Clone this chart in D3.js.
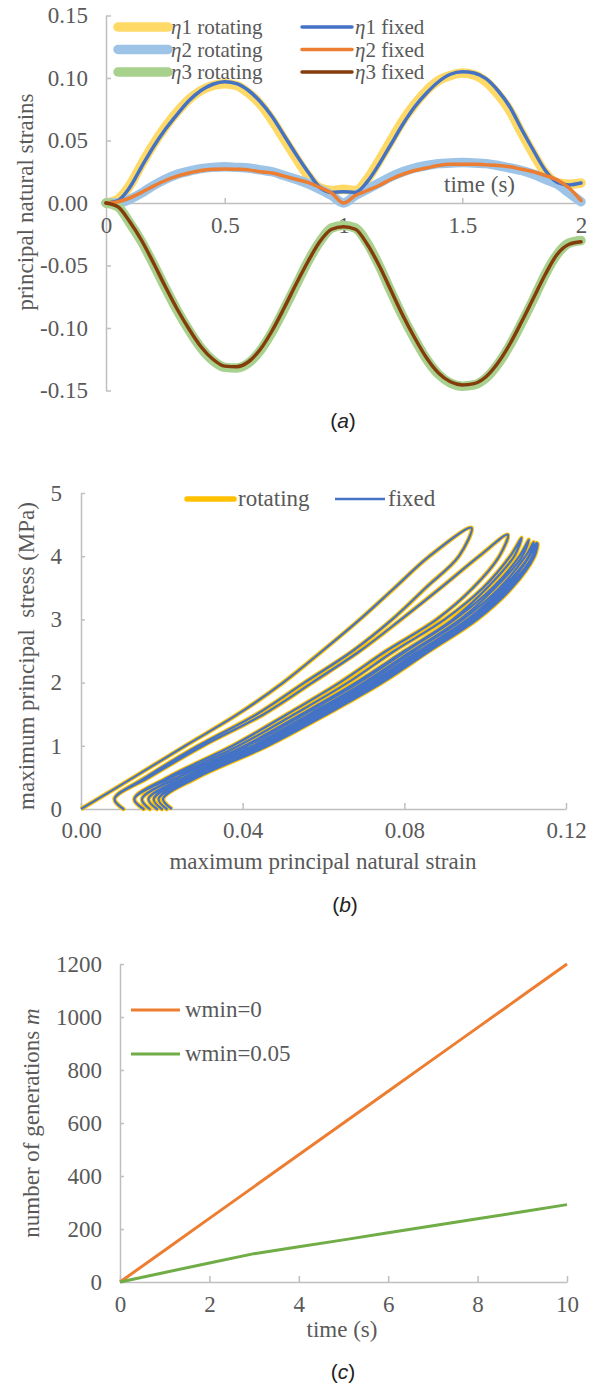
<!DOCTYPE html>
<html>
<head>
<meta charset="utf-8">
<script src="https://cdn.jsdelivr.net/npm/d3@7"></script>
<style>
  body { margin: 0; background: #fff; }
  svg text { font-family: "Liberation Serif", "Times New Roman", serif; fill: #595959; }
  .cap { font-family: "Liberation Sans", Arial, sans-serif; font-size: 21px; fill: #222; }
</style>
</head>
<body>
<div id="chart"></div>
<script>
// ---------- panel (a): principal natural strains vs time ----------
const timeA = [0, 0.05, 0.1, 0.15, 0.2, 0.25, 0.3, 0.35, 0.4, 0.45, 0.5, 0.55, 0.6, 0.65, 0.7, 0.75, 0.8, 0.85, 0.9, 0.95,
  1, 1.05, 1.1, 1.15, 1.2, 1.25, 1.3, 1.35, 1.4, 1.45, 1.5, 1.55, 1.6, 1.65, 1.7, 1.75, 1.8, 1.85, 1.9, 1.95, 2]
const eta1Rotating = [0, 0.003, 0.014, 0.031, 0.047, 0.061, 0.073, 0.083, 0.090, 0.094, 0.0955, 0.094, 0.088, 0.079, 0.066, 0.051, 0.036, 0.022, 0.012, 0.010,
  0.011, 0.010, 0.019, 0.034, 0.050, 0.066, 0.079, 0.090, 0.098, 0.102, 0.104, 0.1025, 0.097, 0.087, 0.074, 0.056, 0.039, 0.024, 0.016, 0.015, 0.016]
const eta2Rotating = [0, 0.000, 0.003, 0.008, 0.014, 0.019, 0.023, 0.0255, 0.0275, 0.0285, 0.029, 0.0285, 0.028, 0.0265, 0.025, 0.022, 0.019, 0.0155, 0.011, 0.006,
  0.000, 0.006, 0.011, 0.016, 0.021, 0.025, 0.028, 0.030, 0.0315, 0.032, 0.0325, 0.032, 0.0315, 0.030, 0.028, 0.026, 0.023, 0.019, 0.015, 0.008, 0.001]
const eta3Rotating = [0, -0.003, -0.016, -0.031, -0.049, -0.068, -0.086, -0.102, -0.116, -0.126, -0.1315, -0.132, -0.128, -0.118, -0.103, -0.085, -0.066, -0.047, -0.031, -0.020,
  -0.018, -0.020, -0.032, -0.050, -0.071, -0.091, -0.109, -0.125, -0.137, -0.144, -0.1465, -0.1455, -0.140, -0.129, -0.114, -0.096, -0.077, -0.057, -0.041, -0.032, -0.030]
const eta1Fixed = [0, 0.002, 0.0125, 0.029, 0.045, 0.059, 0.071, 0.082, 0.090, 0.095, 0.097, 0.0955, 0.090, 0.081, 0.069, 0.054, 0.039, 0.025, 0.0125, 0.0085,
  0.009, 0.0085, 0.017, 0.031, 0.047, 0.063, 0.077, 0.088, 0.097, 0.103, 0.105, 0.104, 0.0995, 0.090, 0.077, 0.059, 0.042, 0.026, 0.0165, 0.0145, 0.016]
const eta2Fixed = [0, 0.001, 0.004, 0.0085, 0.0135, 0.018, 0.0215, 0.024, 0.026, 0.027, 0.0273, 0.027, 0.0265, 0.025, 0.024, 0.0215, 0.019, 0.0165, 0.0125, 0.008,
  0.000, 0.006, 0.010, 0.014, 0.019, 0.023, 0.026, 0.028, 0.030, 0.031, 0.031, 0.031, 0.0305, 0.030, 0.029, 0.027, 0.025, 0.022, 0.0185, 0.012, 0.002]
const eta3Fixed = [0, -0.003, -0.015, -0.030, -0.048, -0.067, -0.085, -0.101, -0.115, -0.125, -0.1305, -0.131, -0.127, -0.117, -0.102, -0.084, -0.065, -0.047, -0.031, -0.021,
  -0.019, -0.021, -0.033, -0.050, -0.070, -0.090, -0.108, -0.124, -0.136, -0.143, -0.1455, -0.1445, -0.139, -0.128, -0.113, -0.095, -0.076, -0.057, -0.041, -0.033, -0.031]
const xTicksA = [0, 0.5, 1, 1.5, 2]
const yTicksA = [-0.15, -0.10, -0.05, 0, 0.05, 0.10, 0.15]

// ---------- panel (b): stress vs strain loops ----------
// strain read at these stress levels (MPa) on each loading / unloading branch
const stressLevels = [0.5, 1, 1.5, 2, 2.5, 3, 3.5, 4]
const loadStrain = [
  [0.0130, 0.0258, 0.0388, 0.0500, 0.0597, 0.0690, 0.0776, 0.0862],
  [0.0168, 0.0302, 0.0452, 0.0572, 0.0690, 0.0792, 0.0890, 0.0985],
  [0.0225, 0.0390, 0.0528, 0.0660, 0.0775, 0.0900, 0.0995, 0.1062],
  [0.0242, 0.0412, 0.0552, 0.0688, 0.0805, 0.0925, 0.1018, 0.1085],
  [0.0258, 0.0430, 0.0572, 0.0708, 0.0825, 0.0945, 0.1036, 0.1100],
  [0.0270, 0.0445, 0.0588, 0.0724, 0.0842, 0.0962, 0.1050, 0.1110],
  [0.0282, 0.0458, 0.0600, 0.0738, 0.0856, 0.0975, 0.1062, 0.1118]
]
const unloadStrain = [
  [0.0160, 0.0290, 0.0435, 0.0553, 0.0672, 0.0770, 0.0853, 0.0935],
  [0.0215, 0.0375, 0.0510, 0.0640, 0.0755, 0.0880, 0.0970, 0.1035],
  [0.0238, 0.0405, 0.0545, 0.0680, 0.0800, 0.0920, 0.1005, 0.1072],
  [0.0255, 0.0425, 0.0565, 0.0700, 0.0818, 0.0938, 0.1025, 0.1092],
  [0.0268, 0.0440, 0.0582, 0.0718, 0.0836, 0.0956, 0.1043, 0.1108],
  [0.0278, 0.0452, 0.0596, 0.0732, 0.0850, 0.0968, 0.1056, 0.1117],
  [0.0288, 0.0462, 0.0608, 0.0745, 0.0862, 0.0980, 0.1066, 0.1122]
]
const peakStrain = [0.0966, 0.1056, 0.1090, 0.1108, 0.1120, 0.1127, 0.1130]
const peakStress = [4.45, 4.34, 4.29, 4.26, 4.22, 4.21, 4.20]
const hookStrain = [0.0083, 0.0132, 0.0151, 0.0167, 0.0180, 0.0192, 0.0203]
const hookStress = 0.16
const footStrain = [0.0105, 0.0155, 0.0170, 0.0188, 0.0200, 0.0212, 0.0225]
const xTicksB = [0, 0.04, 0.08, 0.12]
const yTicksB = [0, 1, 2, 3, 4, 5]

// ---------- panel (c): number of generations ----------
const timeC = [0, 1, 2, 3, 4, 5, 6, 7, 8, 9, 10]
const genW0 = [0, 120, 240, 360, 480, 600, 720, 840, 960, 1080, 1200]
const genW005 = [0, 36, 72, 107, 133, 159, 186, 212, 239, 265, 292]
const xTicksC = [0, 2, 4, 6, 8, 10]
const yTicksC = [0, 200, 400, 600, 800, 1000, 1200]

const axisColor = "#bfbfbf"

var svg = d3.select("#chart").append("svg")
  .attr("width", 600)
  .attr("height", 1383)

function styleAxis(g) {
  g.select(".domain").attr("stroke", axisColor).attr("stroke-width", 1.5)
  g.selectAll(".tick line").attr("stroke", axisColor).attr("stroke-width", 1.5)
  g.selectAll(".tick text").attr("fill", "#595959")
    .style("font-family", "'Liberation Serif', serif").style("font-size", "23px")
}

function yTitle(x, y, parts) {
  let t = svg.append("text")
    .attr("transform", "translate(" + x + "," + y + ") rotate(-90)")
    .attr("text-anchor", "middle")
    .style("font-size", "23px")
    .style("white-space", "pre")
  parts.forEach(p => {
    t.append("tspan").text(p[0]).style("font-style", p[1] ? "italic" : "normal")
  })
}

function caption(x, y, letter) {
  let t = svg.append("text").attr("class", "cap").attr("x", x).attr("y", y).attr("text-anchor", "middle")
  t.append("tspan").text("(")
  t.append("tspan").text(letter).style("font-style", "italic")
  t.append("tspan").text(")")
}

// ================= (a) =================
var xA = d3.scaleLinear().domain([0, 2]).range([106, 581])
var yA = d3.scaleLinear().domain([-0.15, 0.15]).range([390.5, 15.5])

var gyA = svg.append("g").attr("transform", "translate(" + xA(0) + ",0)")
  .call(d3.axisLeft(yA).tickValues(yTicksA).tickSizeInner(-5).tickSizeOuter(0).tickPadding(18)
    .tickFormat(d => d.toFixed(2)))
styleAxis(gyA)

var gxA = svg.append("g").attr("transform", "translate(0," + yA(0) + ")")
  .call(d3.axisBottom(xA).tickValues(xTicksA).tickSizeInner(-5).tickSizeOuter(0).tickFormat(d => String(d)))
styleAxis(gxA)
gxA.selectAll(".tick text").attr("y", 30).attr("dy", 0)

var seriesA = [
  { name: "1 rotating", vals: eta1Rotating, color: "#ffd966", width: 9.5 },
  { name: "2 rotating", vals: eta2Rotating, color: "#9dc3e6", width: 9.5 },
  { name: "3 rotating", vals: eta3Rotating, color: "#a9d18e", width: 9.5 },
  { name: "1 fixed", vals: eta1Fixed, color: "#4472c4", width: 3.5 },
  { name: "2 fixed", vals: eta2Fixed, color: "#ed7d31", width: 3.5 },
  { name: "3 fixed", vals: eta3Fixed, color: "#843c0c", width: 3.5 }
]

var lineA = d3.line()
  .x((d, i) => xA(timeA[i]))
  .y(d => yA(d))
  .curve(d3.curveMonotoneX)

seriesA.forEach(s => {
  svg.append("path")
    .attr("d", lineA(s.vals))
    .attr("fill", "none")
    .attr("stroke", s.color)
    .attr("stroke-width", s.width)
    .attr("stroke-linejoin", "round")
    .attr("stroke-linecap", "round")
})

// legend, two columns
seriesA.forEach((s, i) => {
  let col = i < 3 ? 0 : 1
  let row = i % 3
  let lx = col == 0 ? 118 : 302
  let ly = 27 + row * 22.5
  svg.append("line")
    .attr("x1", lx).attr("x2", lx + 50).attr("y1", ly).attr("y2", ly)
    .attr("stroke", s.color).attr("stroke-width", s.width).attr("stroke-linecap", "round")
  let t = svg.append("text").attr("x", lx + 53).attr("y", ly + 7).style("font-size", "21px")
  t.append("tspan").text("\u03b7").style("font-style", "italic")
  t.append("tspan").text(s.name)
})

svg.append("text").attr("x", 515).attr("y", 192).attr("text-anchor", "end")
  .style("font-size", "23px").text("time (s)")
yTitle(33, 202, [["principal natural strains", false]])
caption(343, 428, "a")

// ================= (b) =================
var xB = d3.scaleLinear().domain([0, 0.12]).range([81, 566])
var yB = d3.scaleLinear().domain([0, 5]).range([809, 493])

var gyB = svg.append("g").attr("transform", "translate(" + xB(0) + ",0)")
  .call(d3.axisLeft(yB).tickValues(yTicksB).tickSizeInner(-4).tickSizeOuter(0).tickPadding(19)
    .tickFormat(d => String(d)))
styleAxis(gyB)

var gxB = svg.append("g").attr("transform", "translate(0," + yB(0) + ")")
  .call(d3.axisBottom(xB).tickValues(xTicksB).tickSizeInner(-6).tickSizeOuter(0).tickFormat(d => d.toFixed(2)))
styleAxis(gxB)
gxB.selectAll(".tick text").attr("y", 29).attr("dy", 0)

// build the loop path from the branch tables
var loopPts = [[0, 0]]
for (let k = 0; k < loadStrain.length; k++) {
  if (k > 0) loopPts.push([hookStrain[k - 1], hookStress])
  for (let i = 0; i < stressLevels.length; i++) loopPts.push([loadStrain[k][i], stressLevels[i]])
  loopPts.push([peakStrain[k], peakStress[k]])
  for (let i = stressLevels.length - 1; i >= 0; i--) loopPts.push([unloadStrain[k][i], stressLevels[i]])
  loopPts.push([hookStrain[k], hookStress])
  loopPts.push([footStrain[k], 0])
}

var lineB = d3.line()
  .x(d => xB(d[0]))
  .y(d => yB(d[1]))
  .curve(d3.curveCatmullRom.alpha(0.5))

svg.append("path").attr("d", lineB(loopPts))
  .attr("fill", "none").attr("stroke", "#ffc000").attr("stroke-width", 4.5).attr("stroke-linejoin", "round")
svg.append("path").attr("d", lineB(loopPts))
  .attr("fill", "none").attr("stroke", "#4472c4").attr("stroke-width", 2.2).attr("stroke-linejoin", "round")

// legend (b)
svg.append("line").attr("x1", 187).attr("x2", 234).attr("y1", 499).attr("y2", 499)
  .attr("stroke", "#ffc000").attr("stroke-width", 5.5).attr("stroke-linecap", "round")
svg.append("text").attr("x", 238).attr("y", 506).style("font-size", "23px").text("rotating")
svg.append("line").attr("x1", 335).attr("x2", 385).attr("y1", 499).attr("y2", 499)
  .attr("stroke", "#4472c4").attr("stroke-width", 2.5)
svg.append("text").attr("x", 388).attr("y", 506).style("font-size", "23px").text("fixed")

svg.append("text").attr("x", 323).attr("y", 869).attr("text-anchor", "middle")
  .style("font-size", "23px").text("maximum principal natural strain")
yTitle(34, 656, [["maximum principal  stress (MPa)", false]])
caption(345, 912, "b")

// ================= (c) =================
var xC = d3.scaleLinear().domain([0, 10]).range([120, 567])
var yC = d3.scaleLinear().domain([0, 1200]).range([1282, 964])

var gyC = svg.append("g").attr("transform", "translate(" + xC(0) + ",0)")
  .call(d3.axisLeft(yC).tickValues(yTicksC).tickSizeInner(-4).tickSizeOuter(0).tickPadding(18)
    .tickFormat(d => String(d)))
styleAxis(gyC)

var gxC = svg.append("g").attr("transform", "translate(0," + yC(0) + ")")
  .call(d3.axisBottom(xC).tickValues(xTicksC).tickSizeInner(-6).tickSizeOuter(0).tickFormat(d => String(d)))
styleAxis(gxC)
gxC.selectAll(".tick text").attr("y", 30).attr("dy", 0)

var seriesC = [
  { name: "wmin=0", vals: genW0, color: "#ed7d31" },
  { name: "wmin=0.05", vals: genW005, color: "#70ad47" }
]
var lineC = d3.line()
  .x((d, i) => xC(timeC[i]))
  .y(d => yC(d))

seriesC.forEach((s, i) => {
  svg.append("path").attr("d", lineC(s.vals))
    .attr("fill", "none").attr("stroke", s.color).attr("stroke-width", 3).attr("stroke-linejoin", "round")
  let ly = 1010 + i * 44
  svg.append("line").attr("x1", 131).attr("x2", 180).attr("y1", ly).attr("y2", ly)
    .attr("stroke", s.color).attr("stroke-width", 3)
  svg.append("text").attr("x", 185).attr("y", ly + 7).style("font-size", "23px").text(s.name)
})

svg.append("text").attr("x", 342).attr("y", 1337).attr("text-anchor", "middle")
  .style("font-size", "23px").text("time (s)")
yTitle(39, 1123, [["number of generations ", false], ["m", true]])
caption(343, 1379, "c")
</script>
</body>
</html>
